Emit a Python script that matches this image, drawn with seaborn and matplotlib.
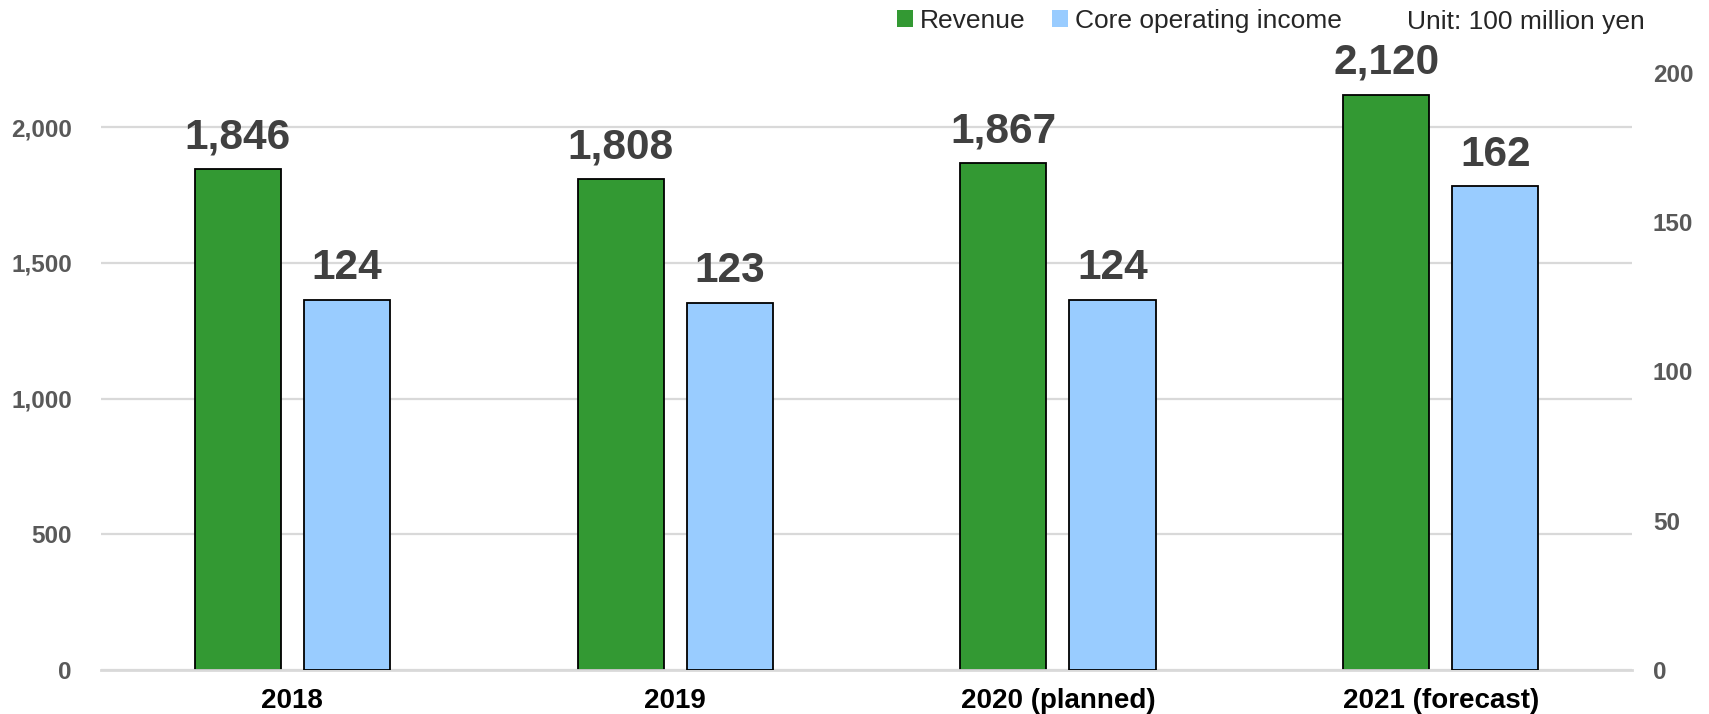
import pandas as pd
import matplotlib
matplotlib.use("Agg")
from matplotlib import pyplot as plt
from matplotlib.patches import Patch
import seaborn as sns

# data
years = ["2018", "2019", "2020 (planned)", "2021 (forecast)"]
series = ["Revenue", "Core operating income"]
revenue = [1846, 1808, 1867, 2120]
core_income = [124, 123, 124, 162]
colors = {"Revenue": "#339933", "Core operating income": "#99CCFF"}
left_ticks = [0, 500, 1000, 1500, 2000]
right_ticks = [0, 50, 100, 150, 200]
unit_text = "Unit: 100 million yen"

df = pd.concat([
    pd.DataFrame({"year": years, "series": series[0], "value": revenue}),
    pd.DataFrame({"year": years, "series": series[1], "value": core_income}),
])

sns.set_style("white")
plt.rcParams["font.family"] = ["Liberation Sans", "DejaVu Sans"]

fig = plt.figure(figsize=(17.09, 7.14), dpi=100)
ax1 = fig.add_axes([0.0591, 0.0616, 0.8959, 0.8362])
ax2 = ax1.twinx()

bar_kw = dict(x="year", y="value", hue="series", order=years, hue_order=series,
              palette=colors, width=0.57, gap=0.21, dodge=True, saturation=1,
              edgecolor="black", linewidth=1.3, legend=False, errorbar=None)
sns.barplot(data=df[df.series == series[0]], ax=ax1, **bar_kw)
sns.barplot(data=df[df.series == series[1]], ax=ax2, **bar_kw)

ax1.set_xlim(-0.5, 3.5)
ax1.set_ylim(0, 2200)
ax2.set_ylim(0, 200)
ax1.set_yticks(left_ticks)
ax1.set_yticklabels([f"{v:,}" for v in left_ticks])
ax2.set_yticks(right_ticks)
ax2.set_yticklabels([f"{v:,}" for v in right_ticks])

ax1.set_axisbelow(True)
ax1.yaxis.grid(True, color="#d9d9d9", linewidth=1.6)
ax1.xaxis.grid(False)
for ax in (ax1, ax2):
    for s in ax.spines.values():
        s.set_visible(False)
    ax.set_xlabel("")
    ax.set_ylabel("")
ax1.spines["bottom"].set_visible(True)
ax1.spines["bottom"].set_color("#d9d9d9")
ax1.spines["bottom"].set_linewidth(2)

ax1.tick_params(axis="y", length=0, pad=21, labelsize=17.5, labelcolor="#595959")
ax2.tick_params(axis="y", length=0, pad=15, labelsize=17.5, labelcolor="#595959")
ax1.tick_params(axis="x", length=0, pad=13, labelsize=20, labelcolor="black")
for lab in ax1.get_yticklabels() + ax2.get_yticklabels() + ax1.get_xticklabels():
    lab.set_fontweight("bold")

# value labels above bars
for ax, vals in ((ax1, revenue), (ax2, core_income)):
    for patch, v in zip(ax.patches, vals):
        ax.annotate(f"{v:,}", (patch.get_x() + patch.get_width() / 2, patch.get_height()),
                    xytext=(0, 15), textcoords="offset points", ha="center",
                    va="baseline", fontsize=30.5, fontweight="bold", color="#404040")

handles = [Patch(facecolor=colors[s], edgecolor="none") for s in series]
fig.legend(handles, series, loc="center left", bbox_to_anchor=(897 / 1709, 1 - 21 / 714),
           ncol=2, frameon=False, fontsize=19, handlelength=0.6, handleheight=0.6,
           handletextpad=0.27, columnspacing=1.0, borderpad=0, borderaxespad=0)
fig.text(1407 / 1709, 1 - 29 / 714, unit_text, fontsize=19, va="baseline", ha="left")

fig.savefig("out.png", dpi=100)
